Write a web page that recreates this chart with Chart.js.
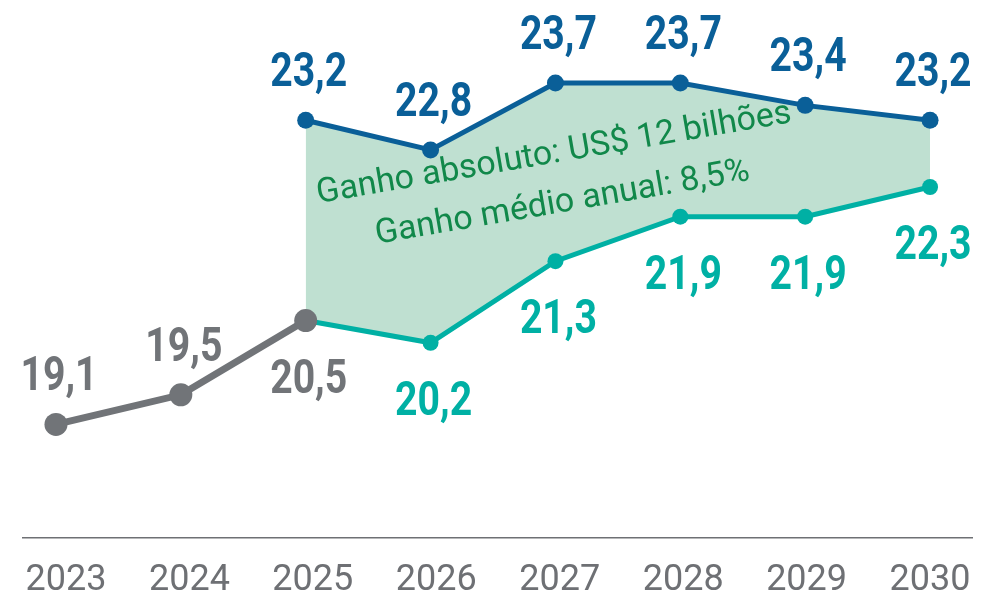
<!DOCTYPE html>
<html>
<head>
<meta charset="utf-8">
<script src="https://cdn.jsdelivr.net/npm/chart.js@4"></script>
<style>
  html, body { margin: 0; padding: 0; background: #ffffff; }
  #wrap { width: 984px; height: 598px; position: relative; }
</style>
</head>
<body>
<div id="wrap"><canvas id="chart"></canvas></div>
<script>
// --- DATI ---
const YEARS = [2023, 2024, 2025, 2026, 2027, 2028, 2029, 2030];
const HIST = [19.1, 19.5, 20.5, null, null, null, null, null];          // storico (grigio)
const BASE = [null, null, 20.5, 20.2, 21.3, 21.9, 21.9, 22.3];          // cenario base (verde-agua)
const GAIN = [null, null, 23.2, 22.8, 23.7, 23.7, 23.4, 23.2];          // cenario com ganho (azul)
const HIST_LABEL_POS = ["above", "above", "below"];
const NOTE_LINES = ["Ganho absoluto: US$ 12 bilhões", "Ganho médio anual: 8,5%"];
const NOTE_ANCHOR = { x: 2027, y: 22.63 };

// --- COLORI ---
const C = {
  gray: "#717478",
  teal: "#00b0a4",
  blue: "#0a5f98",
  fill: "#bfe0d1",
  note: "#11884a",
  axis: "#6e7074",
};

const toPts = (arr) => YEARS.map((y, i) => ({ x: y, y: arr[i] }));
const fmt = (v) => v.toFixed(1).replace(".", ",");

// etichette dei valori + testo ruotato
const labelsPlugin = {
  id: "valueLabels",
  afterDatasetsDraw(chart) {
    const ctx = chart.ctx;
    ctx.save();
    ctx.font = "bold 49px Roboto, sans-serif";
    ctx.textAlign = "center";
    ctx.textBaseline = "alphabetic";
    chart.data.datasets.forEach((ds, di) => {
      const meta = chart.getDatasetMeta(di);
      meta.data.forEach((pt, i) => {
        const v = ds.data[i].y;
        if (v == null) return;
        if (ds.label === "base" && i === 2) return; // coperto dal grigio
        let pos = ds.labelPos;
        if (Array.isArray(pos)) pos = pos[i];
        ctx.fillStyle = ds.borderColor;
        const dy = pos === "above" ? -34 : 72;
        // font "stretto": scala orizzontale
        ctx.save();
        ctx.translate(pt.x + 3, pt.y + dy);
        ctx.scale(0.8, 1);
        ctx.fillText(fmt(v), 0, 0);
        ctx.restore();
      });
    });

    // nota ruotata
    const xs = chart.scales.x, ys = chart.scales.y;
    const cx = xs.getPixelForValue(NOTE_ANCHOR.x);
    const cy = ys.getPixelForValue(NOTE_ANCHOR.y);
    ctx.translate(cx, cy);
    ctx.rotate((-9.7 * Math.PI) / 180);
    ctx.font = "34px Roboto, sans-serif";
    ctx.fillStyle = C.note;
    ctx.fillText(NOTE_LINES[0], 0, 0);
    ctx.fillText(NOTE_LINES[1], 0, 50);
    ctx.restore();
  },
};

new Chart(document.getElementById("chart"), {
  type: "line",
  data: {
    datasets: [
      {
        label: "hist",
        data: toPts(HIST),
        borderColor: C.gray,
        backgroundColor: C.gray,
        borderWidth: 7,
        pointRadius: 11.5,
        pointHoverRadius: 11.5,
        pointBackgroundColor: C.gray,
        pointBorderWidth: 0,
        labelPos: HIST_LABEL_POS,
        fill: false,
      },
      {
        label: "gain",
        data: toPts(GAIN),
        borderColor: C.blue,
        backgroundColor: C.fill,
        borderWidth: 5,
        pointRadius: 8.5,
        pointBackgroundColor: C.blue,
        pointBorderWidth: 0,
        labelPos: "above",
        fill: { target: 2 },
      },
      {
        label: "base",
        data: toPts(BASE),
        borderColor: C.teal,
        backgroundColor: C.teal,
        borderWidth: 5,
        pointRadius: 8,
        pointBackgroundColor: C.teal,
        pointBorderWidth: 0,
        labelPos: "below",
        fill: false,
      },
    ],
  },
  options: {
    responsive: true,
    maintainAspectRatio: false,
    animation: false,
    layout: { autoPadding: false, padding: { left: 23, right: 12, top: 0, bottom: 0 } },
    plugins: {
      legend: { display: false },
      tooltip: { enabled: false },
      filler: { drawTime: "beforeDatasetsDraw" },
    },
    scales: {
      x: {
        type: "linear",
        display: false,
        min: 2022.736,
        max: 2030.336,
      },
      xLabels: {
        type: "linear",
        position: "bottom",
        min: 2022.652,
        max: 2030.34,
        grid: { display: false, drawTicks: false },
        border: { display: true, color: C.axis, width: 1.5 },
        afterBuildTicks: (axis) => {
          axis.ticks = YEARS.map((v) => ({ value: v }));
        },
        afterFit: (axis) => {
          axis.height = 60;
          axis.paddingLeft = 0;
          axis.paddingRight = 0;
        },
        ticks: {
          color: C.axis,
          font: { family: "Roboto", size: 36 },
          padding: 21,
          maxRotation: 0,
          autoSkip: false,
          callback: (v) => String(v),
        },
      },
      y: {
        display: false,
        min: 17.57,
        max: 24.82,
      },
    },
  },
  plugins: [labelsPlugin],
});
</script>
</body>
</html>
